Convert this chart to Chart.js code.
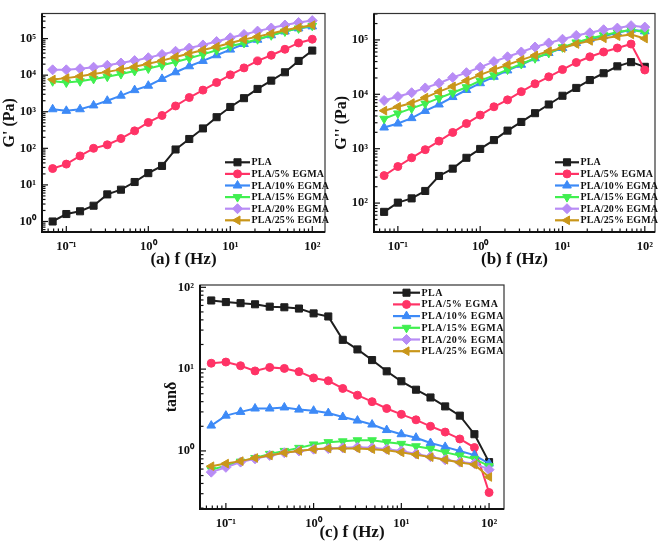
<!DOCTYPE html>
<html><head><meta charset="utf-8">
<script src="https://cdn.jsdelivr.net/npm/chart.js@4/dist/chart.umd.min.js"></script>
<style>
html,body{margin:0;padding:0;background:#fff;width:661px;height:543px;overflow:hidden}
canvas{position:absolute}
</style></head><body>
<canvas id="ca" width="331" height="270" style="left:0;top:0"></canvas>
<canvas id="cb" width="330" height="270" style="left:331px;top:0"></canvas>
<canvas id="cc" width="350" height="273" style="left:160px;top:270px"></canvas>
<script>
// ---------------- data ----------------
const freq = [0.0681,0.1,0.147,0.215,0.316,0.464,0.681,1,1.47,2.15,3.16,4.64,6.81,10,14.7,21.5,31.6,46.4,68.1,100];
const seriesNames = ['PLA','PLA/5% EGMA','PLA/10% EGMA','PLA/15% EGMA','PLA/20% EGMA','PLA/25% EGMA'];

// (a) storage modulus G' (Pa)
const gStorePLA = [1.0,1.6,1.9,2.7,5.5,7.4,12,21,33,93,180,350,710,1350,2350,4200,7100,12000,24500,47000];
const gStore5  = [28,37,62,100,125,185,300,510,790,1440,2450,3900,6300,10200,15800,24500,35000,51000,76000,96000];
const gStore10 = [1170,1060,1170,1490,2000,2750,3900,5150,7900,12000,17500,24500,35000,50000,71000,93000,123000,156000,190000,215000];
const gStore15 = [6800,6300,6800,7900,9100,10700,13000,15200,18600,23000,29000,37000,48000,62000,76000,96000,123000,156000,190000,223000];
const gStore20 = [14000,14000,15000,16500,18600,21500,25000,30000,37000,45000,55000,67000,83000,105000,130000,160000,195000,235000,275000,310000];
const gStore25 = [7600,8300,9400,10700,12300,14400,17000,20500,25000,31500,39000,49000,60000,76000,94000,113000,138000,170000,200000,233000];

// (b) loss modulus G'' (Pa)
const gLossPLA = [69,102,122,167,315,430,680,990,1440,2150,3100,4500,6500,9400,13100,18300,24400,32700,39000,32000];
const gLoss5  = [320,470,680,960,1380,1990,2900,4150,5900,7900,11200,15600,21000,28500,38500,49000,60000,71000,84000,28000];
const gLoss10 = [2450,2900,3650,4950,6500,8900,12000,16000,21000,27500,35000,46000,57500,71000,87500,103000,117000,135000,154000,144000];
const gLoss15 = [3550,4450,5500,6750,8500,10700,13500,17800,22300,28500,36000,46000,57500,73000,90000,106000,122000,138000,154000,138000];
const gLoss20 = [7700,9100,10700,13100,16000,20400,25000,31500,40000,49000,60000,74000,88000,103000,121000,135000,154000,165000,183000,172000];
const gLoss25 = [5000,5900,6900,8700,11200,14000,17800,22700,28500,35000,43000,52000,62000,71000,84000,96000,107000,117000,126000,106000];

// (c) loss tangent tan delta
const tanPLA = [69,66,64,62,58,57,55,48,44,22.8,17.4,12.9,9.4,7.1,5.6,4.5,3.5,2.7,1.6,0.73];
const tan5  = [11.8,12.2,11,9.5,10.5,10.2,9.3,7.8,7.2,5.8,4.8,4.0,3.3,2.8,2.4,2.0,1.7,1.4,1.1,0.31];
const tan10 = [2.04,2.7,3.0,3.3,3.3,3.4,3.2,3.1,2.9,2.6,2.35,2.1,1.8,1.6,1.45,1.25,1.12,1.0,0.89,0.7];
const tan15 = [0.59,0.66,0.74,0.82,0.92,1.0,1.09,1.2,1.28,1.31,1.35,1.35,1.28,1.22,1.14,1.06,0.96,0.88,0.8,0.65];
const tan20 = [0.55,0.63,0.73,0.8,0.88,0.95,1.0,1.05,1.07,1.09,1.11,1.09,1.05,1.0,0.92,0.85,0.78,0.73,0.7,0.59];
const tan25 = [0.65,0.7,0.75,0.82,0.88,0.95,1.0,1.05,1.07,1.07,1.07,1.05,1.02,0.96,0.9,0.84,0.78,0.72,0.68,0.48];

// ---------------- styles ----------------
const colors = ['#1e1e1e','#ff3366','#3d8af7','#40ef50','#b88cf5','#c9961a'];
const styles = ['rect','circle','triangle','triangle','rectRot','triangle'];
const rotations = [0,0,0,180,0,270];
const radii = [5,4,5,5,5,5];
const FONT = "'Liberation Serif','Times New Roman',serif";
const SUP = {'-':'\u207B','0':'\u2070','1':'\u00B9','2':'\u00B2','3':'\u00B3','4':'\u2074','5':'\u2075','6':'\u2076'};

function isPow10(v){const l=Math.log10(v);return Math.abs(l-Math.round(l))<1e-6;}
function supLabel(v){const e=Math.round(Math.log10(v));return '10'+String(e).split('').map(c=>SUP[c]).join('');}
function logTicks(scale){
  const min=scale.min,max=scale.max,out=[];
  for(let e=Math.floor(Math.log10(min));e<=Math.ceil(Math.log10(max));e++){
    for(let m=1;m<=9;m++){const v=m*Math.pow(10,e);if(v>=min*0.9999&&v<=max*1.0001)out.push({value:v,major:m===1});}
  }
  scale.ticks=out;
}

const framePlugin = {
  id:'frameTicks',
  afterDatasetsDraw(chart,args,opts){
    const ctx=chart.ctx,a=chart.chartArea;
    ctx.save();
    ctx.strokeStyle='#111';ctx.lineWidth=1.2;
    const xs=chart.scales.x,ys=chart.scales.y;
    xs.ticks.forEach(t=>{const p=xs.getPixelForValue(t.value);const L=isPow10(t.value)?6:3.5;
      ctx.beginPath();ctx.moveTo(p,a.bottom);ctx.lineTo(p,a.bottom-L);ctx.stroke();});
    ys.ticks.forEach(t=>{const p=ys.getPixelForValue(t.value);const L=isPow10(t.value)?6:3.5;
      ctx.beginPath();ctx.moveTo(a.left,p);ctx.lineTo(a.left+L,p);ctx.stroke();});
    ctx.strokeStyle='#333';ctx.lineWidth=1.2;
    ctx.strokeRect(a.left,a.top,a.right-a.left,a.bottom-a.top);
    ctx.strokeStyle='#111';ctx.lineWidth=2;
    ctx.beginPath();ctx.moveTo(a.left,a.top);ctx.lineTo(a.left,a.bottom);ctx.lineTo(a.right,a.bottom);ctx.stroke();
    const lg=opts.legend;
    chart.data.datasets.forEach((ds,i)=>{
      const y=lg.y+i*lg.rowH;
      ctx.strokeStyle=ds.borderColor;ctx.lineWidth=2.2;
      ctx.beginPath();ctx.moveTo(lg.x,y);ctx.lineTo(lg.x+lg.len,y);ctx.stroke();
      ctx.fillStyle=ds.backgroundColor;ctx.strokeStyle=ds.borderColor;ctx.lineWidth=1;
      Chart.helpers.drawPoint(ctx,{pointStyle:ds.pointStyle,rotation:ds.pointRotation,radius:ds.pointRadius,borderWidth:1},lg.x+lg.len/2,y);
      ctx.fillStyle='#111';ctx.font='bold 10px '+FONT;ctx.textBaseline='middle';ctx.textAlign='left';
      if('letterSpacing' in ctx) ctx.letterSpacing=lg.ls+'px';
      ctx.fillText(ds.label,lg.x+lg.len+1.5,y+0.5);
      if('letterSpacing' in ctx) ctx.letterSpacing='0px';
    });
    ctx.restore();
  }
};

function makeDatasets(vals){
  return seriesNames.map((name,i)=>({
    label:name,
    data:freq.map((f,j)=>({x:f,y:vals[i][j]})),
    borderColor:colors[i],backgroundColor:colors[i],
    pointStyle:styles[i],pointRotation:rotations[i],pointRadius:radii[i],
    pointBorderWidth:1,borderWidth:2,tension:0,fill:false,order:6-i
  }));
}

function makeChart(id,vals,cfg){
  return new Chart(document.getElementById(id),{
    type:'line',
    data:{datasets:makeDatasets(vals)},
    plugins:[framePlugin],
    options:{
      responsive:false,animation:false,events:[],
      layout:{padding:cfg.pad},
      plugins:{legend:{display:false},tooltip:{enabled:false},frameTicks:{legend:cfg.legend}},
      scales:{
        x:{type:'logarithmic',min:cfg.xmin,max:cfg.xmax,
          afterBuildTicks:logTicks,afterFit:s=>{s.height=cfg.xh;},
          grid:{display:false,drawTicks:false},border:{display:false},
          ticks:{autoSkip:false,maxRotation:0,padding:7,color:'#111',font:{family:FONT,size:12.5,weight:'bold'},
            callback:(v)=>isPow10(v)?supLabel(v):''},
          title:{display:true,text:cfg.xtitle,color:'#111',padding:{top:cfg.xtpad,bottom:0},font:{family:FONT,size:17,weight:'bold'}}},
        y:{type:'logarithmic',min:cfg.ymin,max:cfg.ymax,
          afterBuildTicks:logTicks,afterFit:s=>{s.width=cfg.yw;},
          grid:{display:false,drawTicks:false},border:{display:false},
          ticks:{autoSkip:false,padding:6,color:'#111',font:{family:FONT,size:12.5,weight:'bold'},
            callback:(v)=>isPow10(v)?supLabel(v):''},
          title:{display:true,text:cfg.ytitle,color:'#111',padding:{top:cfg.ytpad,bottom:0},font:{family:FONT,size:16,weight:'bold'}}}
      }
    }
  });
}

makeChart('ca',[gStorePLA,gStore5,gStore10,gStore15,gStore20,gStore25],{
  pad:{left:0,top:3,right:1,bottom:0},xh:38,yw:42,
  xmin:0.0505,xmax:143,ymin:0.516,ymax:485000,
  xtitle:'(a) f (Hz)',ytitle:"G' (Pa)",xtpad:3,ytpad:0,
  legend:{x:225,y:162.3,rowH:11.6,len:25,ls:0.1}
});
makeChart('cb',[gLossPLA,gLoss5,gLoss10,gLoss15,gLoss20,gLoss25],{
  pad:{left:0,top:3,right:3,bottom:0},xh:38,yw:43,
  xmin:0.0513,xmax:133,ymin:29.4,ymax:306000,
  xtitle:'(b) f (Hz)',ytitle:"G'' (Pa)",xtpad:3,ytpad:1,
  legend:{x:224,y:162.3,rowH:11.6,len:24,ls:0.1}
});
makeChart('cc',[tanPLA,tan5,tan10,tan15,tan20,tan25],{
  pad:{left:0,top:15,right:5,bottom:0},xh:34,yw:40,
  xmin:0.0507,xmax:148,ymin:0.195,ymax:106.7,
  xtitle:'(c) f (Hz)',ytitle:'tan\u03B4',xtpad:3,ytpad:2,
  legend:{x:233,y:22.7,rowH:11.7,len:27,ls:0.5}
});
</script>
</body></html>
